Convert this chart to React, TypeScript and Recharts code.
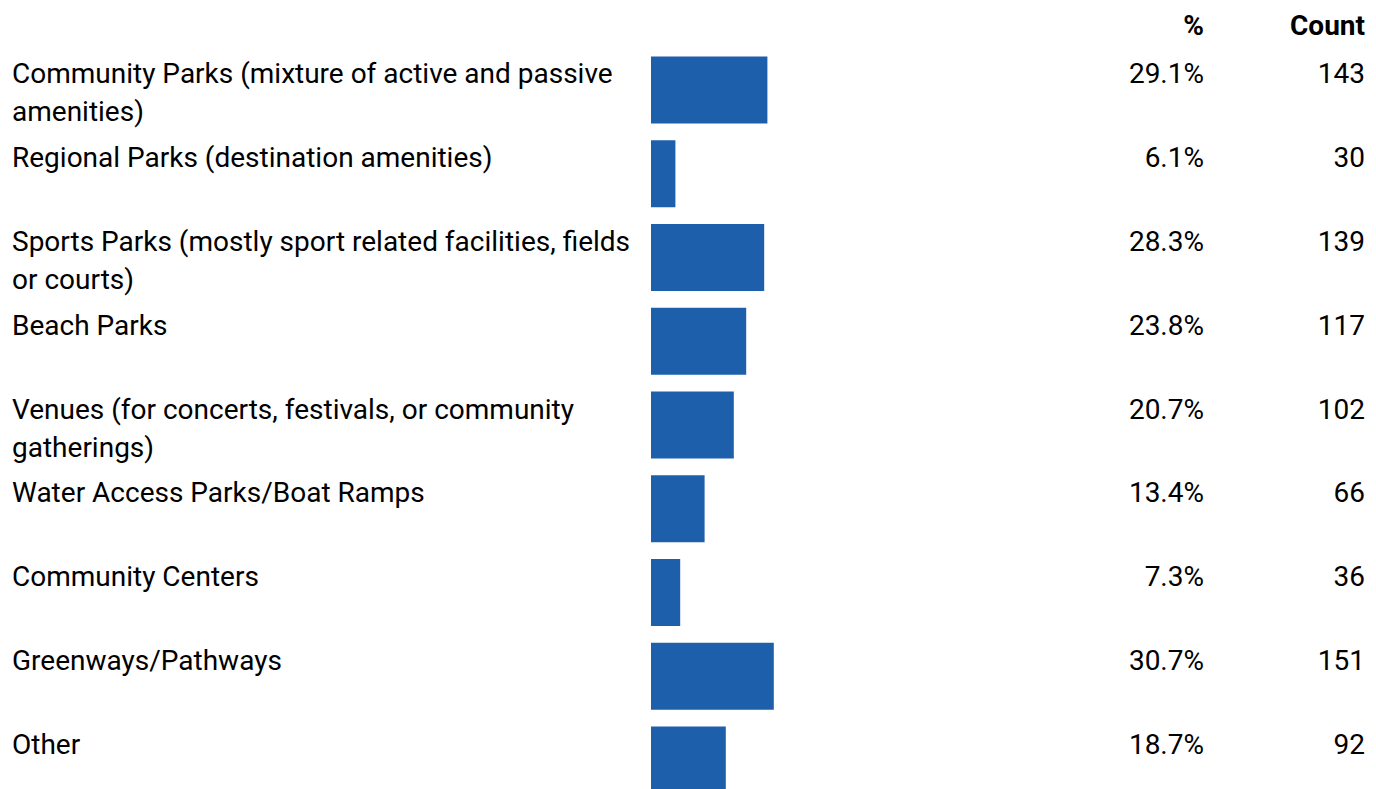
import React from 'react';
import { BarChart, Bar, XAxis, YAxis } from 'recharts';

const categories = [
  'Community Parks (mixture of active and passive amenities)',
  'Regional Parks (destination amenities)',
  'Sports Parks (mostly sport related facilities, fields or courts)',
  'Beach Parks',
  'Venues (for concerts, festivals, or community gatherings)',
  'Water Access Parks/Boat Ramps',
  'Community Centers',
  'Greenways/Pathways',
  'Other',
];
const percents = [29.1, 6.1, 28.3, 23.8, 20.7, 13.4, 7.3, 30.7, 18.7];
const counts = [143, 30, 139, 117, 102, 66, 36, 151, 92];
const headers = ['%', 'Count'];

const data = categories.map((name, i) => ({ name, pct: percents[i], count: counts[i] }));

const FONT = 'Roboto, sans-serif';
const FONT_SIZE = 28;
const LINE_H = 38;
const WRAP_W = 635;

let ctx: CanvasRenderingContext2D | null = null;
const measure = (s: string) => {
  if (!ctx) {
    ctx = document.createElement('canvas').getContext('2d');
    if (ctx) ctx.font = `${FONT_SIZE}px Roboto`;
  }
  return ctx ? ctx.measureText(s).width : s.length * 13;
};

const wrap = (text: string) => {
  const words = text.split(' ');
  const lines: string[] = [];
  let cur = '';
  words.forEach((w) => {
    const next = cur ? cur + ' ' + w : w;
    if (cur && measure(next) > WRAP_W) {
      lines.push(cur);
      cur = w;
    } else {
      cur = next;
    }
  });
  if (cur) lines.push(cur);
  return lines;
};

const LeftTick = (props: any) => {
  const { y, payload } = props;
  const lines = wrap(payload.value);
  return (
    <text x={12} y={y - 6.5} fontFamily={FONT} fontSize={FONT_SIZE} fill="#000">
      {lines.map((l, i) => (
        <tspan key={i} x={12} dy={i === 0 ? 0 : LINE_H}>
          {l}
        </tspan>
      ))}
    </text>
  );
};

const RightTick = (props: any) => {
  const { y, payload } = props;
  const i = payload.index;
  return (
    <g fontFamily={FONT} fontSize={FONT_SIZE} fill="#000">
      <text x={1204} y={y - 6.5} textAnchor="end">
        {percents[i].toFixed(1)}%
      </text>
      <text x={1365} y={y - 6.5} textAnchor="end">
        {counts[i]}
      </text>
    </g>
  );
};

export default function App() {
  return (
    <div style={{ position: 'relative', width: 1376, height: 789, overflow: 'hidden', background: '#fff' }}>
      <style>{`body{margin:0}`}</style>
      <svg width={1376} height={48} style={{ position: 'absolute', left: 0, top: 0 }}>
        <text x={1204} y={35} textAnchor="end" fontFamily={FONT} fontSize={FONT_SIZE} fontWeight="bold" fill="#000">
          {headers[0]}
        </text>
        <text x={1365} y={35} textAnchor="end" fontFamily={FONT} fontSize={FONT_SIZE} fontWeight="bold" fill="#000">
          {headers[1]}
        </text>
      </svg>
      <BarChart
        width={1376}
        height={802}
        data={data}
        layout="vertical"
        margin={{ top: 48, right: 0, bottom: 0, left: 0 }}
        barCategoryGap="10%"
      >
        <XAxis type="number" domain={[0, 100]} hide />
        <YAxis
          type="category"
          dataKey="name"
          width={651}
          axisLine={false}
          tickLine={false}
          interval={0}
          tick={<LeftTick />}
        />
        <YAxis
          yAxisId="right"
          orientation="right"
          type="category"
          dataKey="name"
          width={325}
          axisLine={false}
          tickLine={false}
          interval={0}
          tick={<RightTick />}
        />
        <Bar dataKey="pct" fill="#1d5fab" isAnimationActive={false} />
      </BarChart>
    </div>
  );
}
